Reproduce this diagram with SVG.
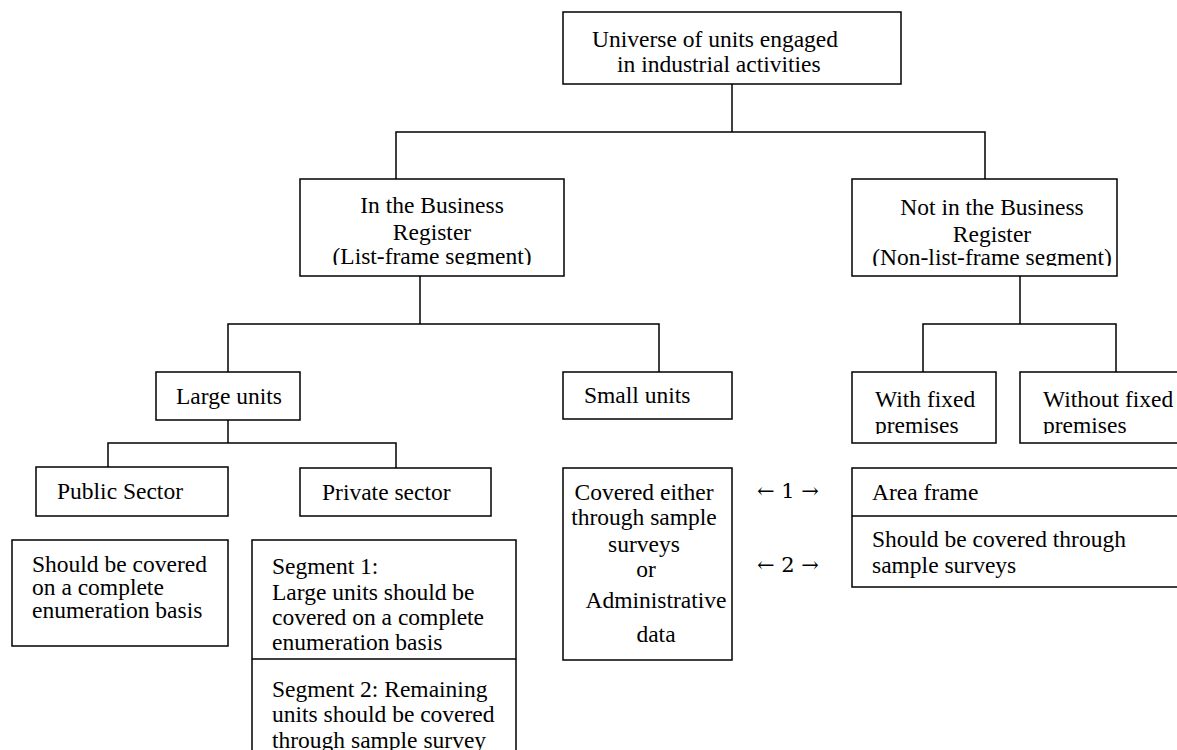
<svg xmlns="http://www.w3.org/2000/svg" width="1177" height="750" viewBox="0 0 1177 750">
<style>
rect.b{fill:#fff;stroke:#000;stroke-width:1.5}
line,path{stroke:#000;stroke-width:1.5;fill:none}
text{font-family:"Liberation Serif","Times New Roman",serif;font-size:23.5px;fill:#000}
.m{text-anchor:middle}
.ar{font-family:"DejaVu Serif","Liberation Serif",serif;font-size:21px}
</style>
<defs>
<clipPath id="cBR"><rect x="300" y="179" width="264" height="86"/></clipPath>
<clipPath id="cNBR"><rect x="852" y="179" width="265" height="87"/></clipPath>
<clipPath id="cWF"><rect x="852" y="372" width="144" height="62"/></clipPath>
<clipPath id="cWOF"><rect x="1020" y="372" width="160" height="62"/></clipPath>
</defs>
<g id="connectors">
<line x1="732" y1="84" x2="732" y2="132"/>
<path d="M396 179V132H985V179"/>
<line x1="420" y1="276" x2="420" y2="324"/>
<path d="M228 372V324H659V372"/>
<line x1="1020" y1="276" x2="1020" y2="324"/>
<path d="M923 372V324H1116V372"/>
<line x1="228" y1="420" x2="228" y2="443"/>
<path d="M108 467V443H396V468"/>
</g>
<g id="universe">
<rect class="b" x="563" y="12" width="338" height="72"/>
<text x="592" y="47">Universe of units engaged</text>
<text x="617" y="72">in industrial activities</text>
</g>
<g id="inBR">
<rect class="b" x="300" y="179" width="264" height="97"/>
<g clip-path="url(#cBR)">
<text class="m" x="432" y="213">In the Business</text>
<text class="m" x="432" y="240">Register</text>
<text class="m" x="432" y="264">(List-frame segment)</text>
</g>
</g>
<g id="notBR">
<rect class="b" x="852" y="179" width="265" height="97"/>
<g clip-path="url(#cNBR)">
<text class="m" x="992" y="215">Not in the Business</text>
<text class="m" x="992" y="242">Register</text>
<text class="m" x="992" y="265">(Non-list-frame segment)</text>
</g>
</g>
<g id="large">
<rect class="b" x="156" y="372" width="144" height="48"/>
<text x="176" y="404">Large units</text>
</g>
<g id="small">
<rect class="b" x="563" y="372" width="169" height="47"/>
<text x="584" y="403">Small units</text>
</g>
<g id="withfixed">
<rect class="b" x="852" y="372" width="144" height="71"/>
<g clip-path="url(#cWF)">
<text x="875" y="407">With fixed</text>
<text x="875" y="433">premises</text>
</g>
</g>
<g id="withoutfixed">
<rect class="b" x="1020" y="372" width="170" height="71"/>
<g clip-path="url(#cWOF)">
<text x="1043" y="407">Without fixed</text>
<text x="1043" y="433">premises</text>
</g>
</g>
<g id="public">
<rect class="b" x="36" y="467" width="192" height="49"/>
<text x="57" y="499">Public Sector</text>
</g>
<g id="private">
<rect class="b" x="300" y="468" width="191" height="48"/>
<text x="322" y="500">Private sector</text>
</g>
<g id="publicnote">
<rect class="b" x="12" y="540" width="216" height="106"/>
<text x="32" y="572">Should be covered</text>
<text x="32" y="595">on a complete</text>
<text x="32" y="618">enumeration basis</text>
</g>
<g id="segments">
<rect class="b" x="252" y="540" width="264" height="220"/>
<line x1="252" y1="659" x2="516" y2="659"/>
<text x="272" y="574">Segment 1:</text>
<text x="272" y="600">Large units should be</text>
<text x="272" y="625">covered on a complete</text>
<text x="272" y="650">enumeration basis</text>
<text x="272" y="697">Segment 2: Remaining</text>
<text x="272" y="722">units should be covered</text>
<text x="272" y="748">through sample survey</text>
</g>
<g id="smallnote">
<rect class="b" x="563" y="468" width="169" height="192"/>
<text class="m" x="644" y="500">Covered either</text>
<text class="m" x="644" y="525">through sample</text>
<text class="m" x="644" y="552">surveys</text>
<text class="m" x="646" y="577">or</text>
<text class="m" x="656" y="608">Administrative</text>
<text class="m" x="656" y="642">data</text>
</g>
<g id="arrows">
<text class="m ar" x="788" y="498">← 1 →</text>
<text class="m ar" x="788" y="572">← 2 →</text>
</g>
<g id="areaframe">
<rect class="b" x="852" y="468" width="340" height="119"/>
<line x1="852" y1="516" x2="1192" y2="516"/>
<text x="872" y="500">Area frame</text>
<text x="872" y="547">Should be covered through</text>
<text x="872" y="573">sample surveys</text>
</g>
</svg>
